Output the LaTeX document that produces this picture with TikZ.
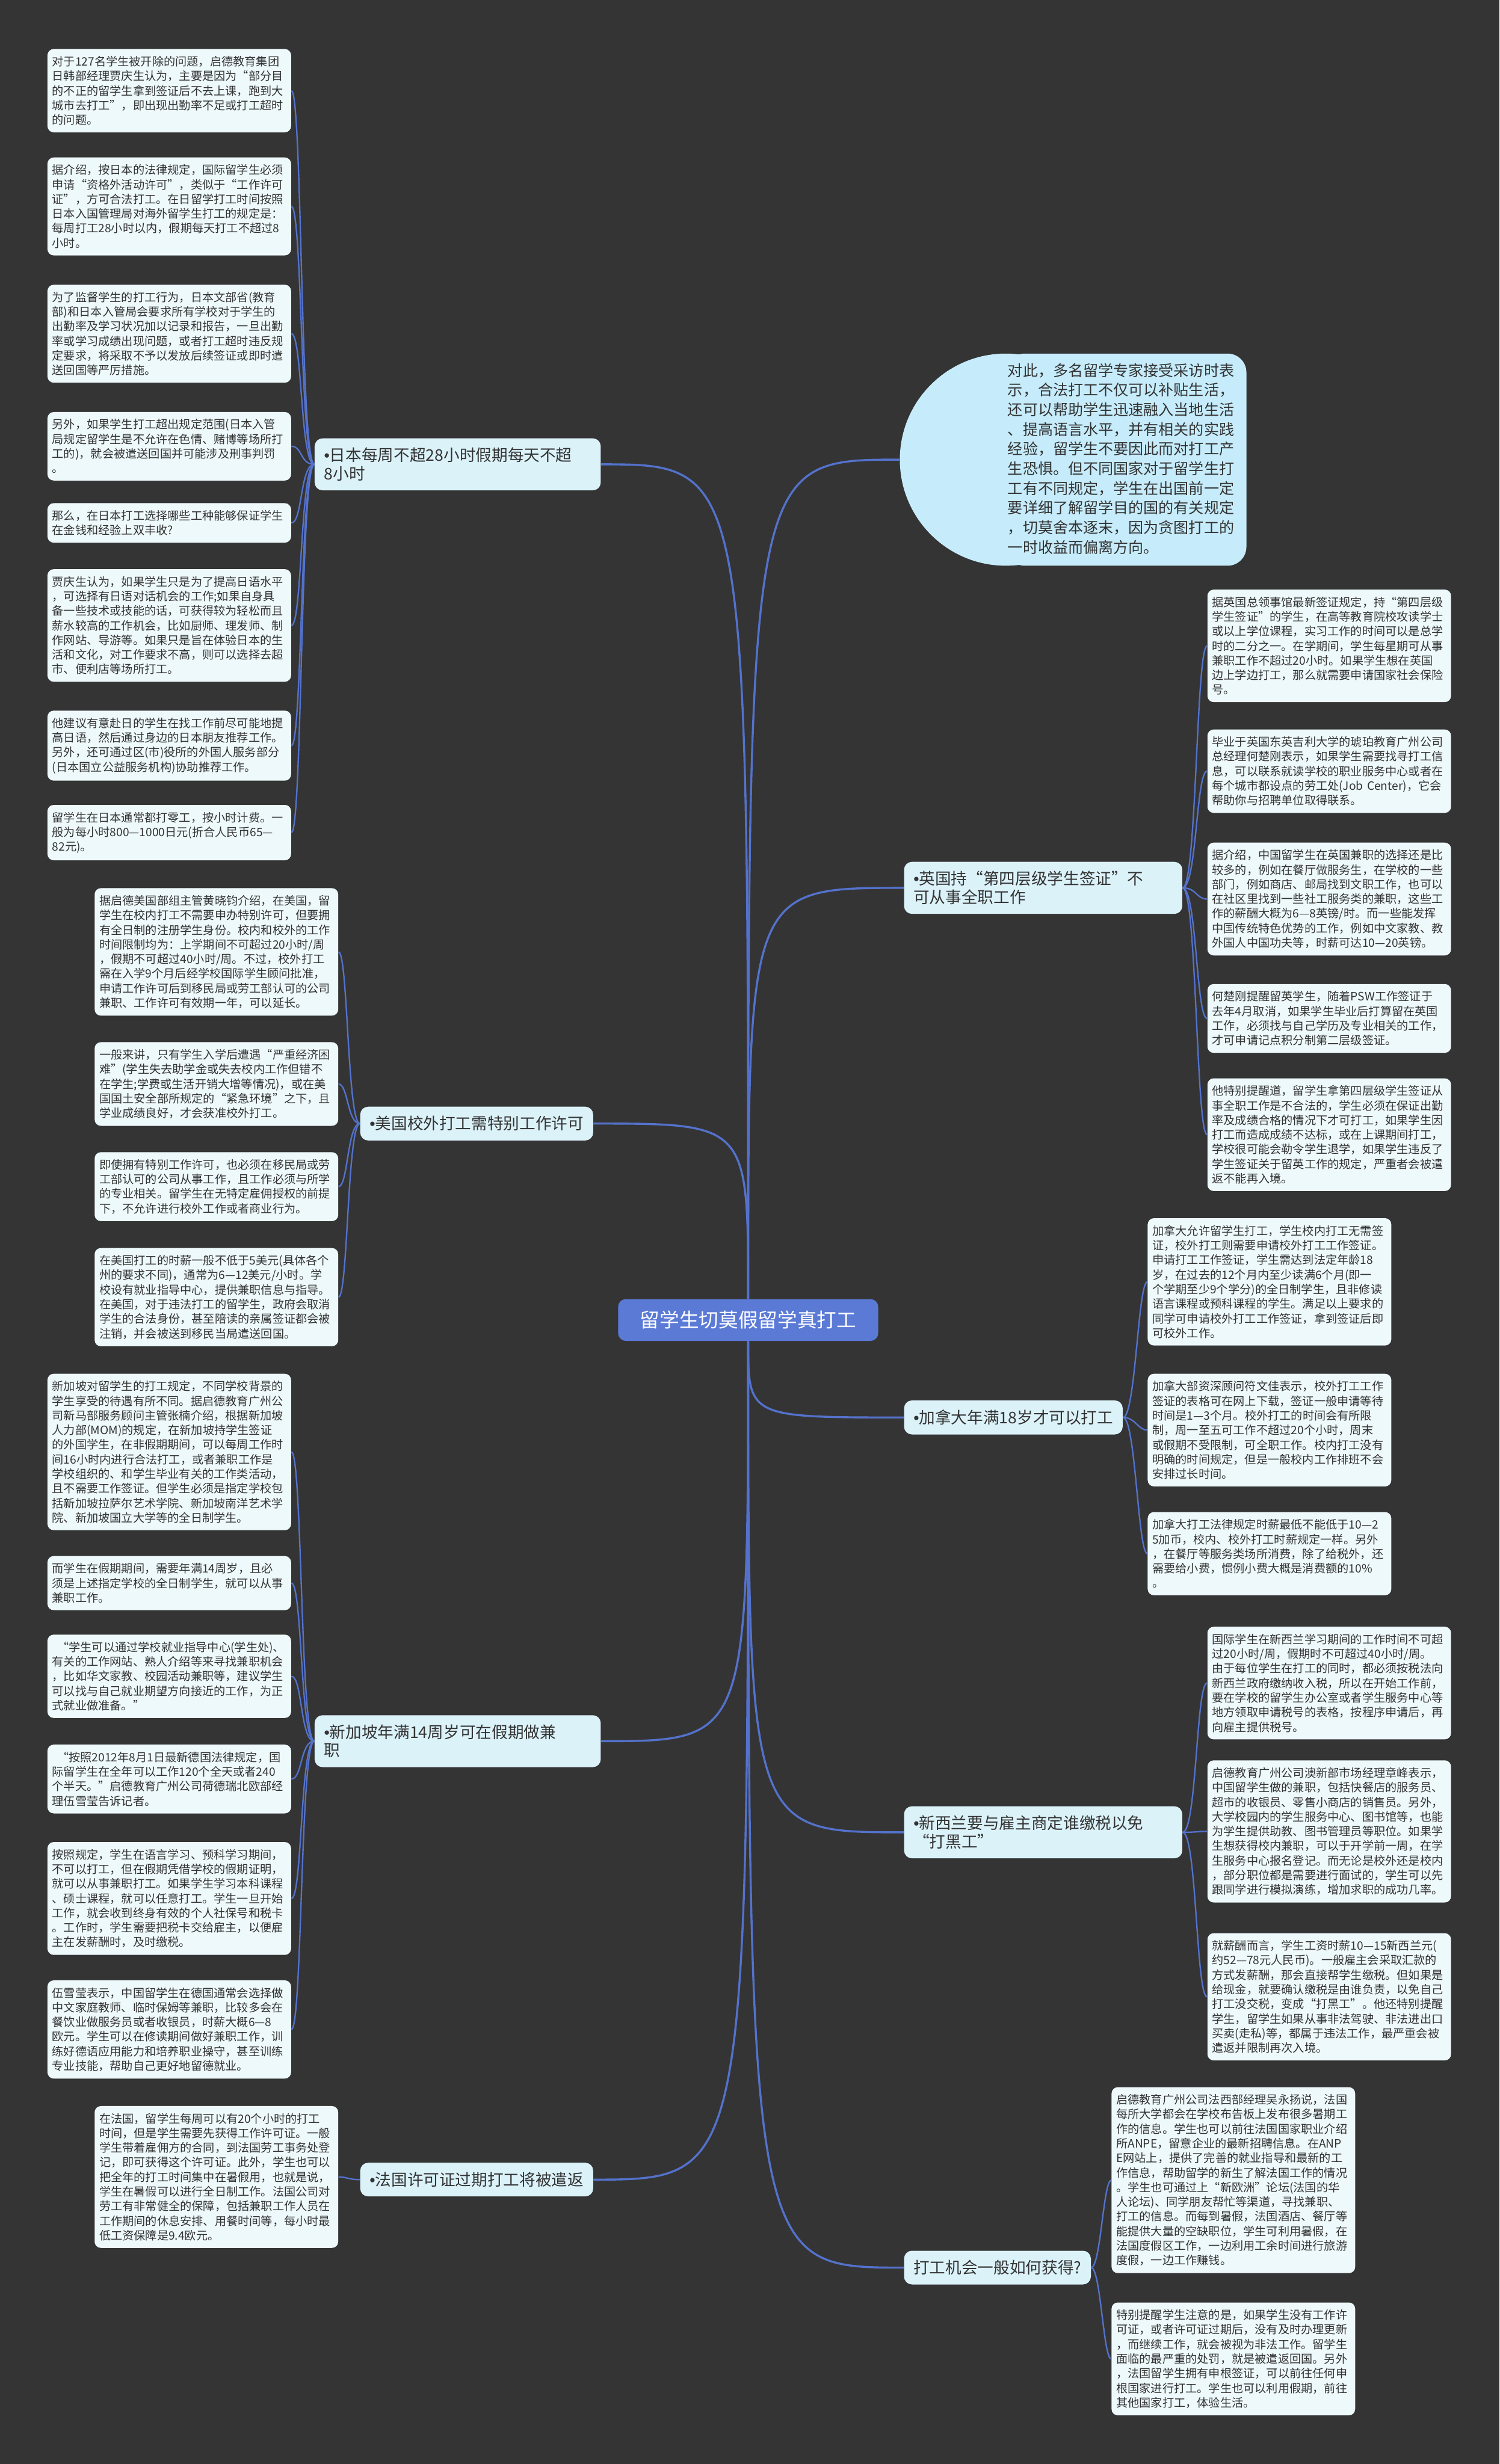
\documentclass[tikz,border=0pt]{standalone}
\usepackage{fontspec}
\setmainfont{Noto Sans CJK SC}
\newfontfamily\dotfont{Liberation Sans}
\newcommand{\dotmark}{{\dotfont •}}
\definecolor{slate}{HTML}{343434}
\definecolor{wire}{HTML}{5472CC}
\definecolor{hubblue}{HTML}{5A7AD6}
\definecolor{topicfill}{HTML}{DBF2F9}
\definecolor{leaffill}{HTML}{EEF9FC}
\definecolor{tipfill}{HTML}{C6ECFB}
\definecolor{ink}{HTML}{333333}
\tikzset{
  hub/.style={fill=hubblue, rounded corners=5pt, text=white, inner xsep=14pt, inner ysep=7.5pt, font=\fontsize{12.5}{15}\selectfont},
  topic/.style={fill=topicfill, rounded corners=5pt, text=ink, align=left, inner xsep=6pt, inner ysep=6pt, font=\fontsize{10.2}{11.6}\selectfont},
  leaf/.style={fill=leaffill, rounded corners=4pt, text=ink, align=left, text width=149pt, inner xsep=3pt, inner ysep=4.5pt, font=\fontsize{7.35}{9.3}\selectfont},
  tiptext/.style={text=ink, align=left, text width=150pt, inner sep=0pt, font=\fontsize{9.6}{12.5}\selectfont},
  link/.style={wire, line width=1.3pt},
  twig/.style={wire, line width=0.9pt}
}

\begin{document}
\begin{tikzpicture}[x=1pt, y=-1pt]
\fill[slate] (0,0) rectangle (954,1568);
\useasboundingbox (0,0) rectangle (954,1568);

\node[hub] (hub) at (476,840) {留学生切莫假留学真打工};

\fill[tipfill] (640,292.5) circle[radius=67.5pt];
\fill[tipfill, rounded corners=12pt] (640,225) rectangle (793,360);
\coordinate (tipw) at (572.5,292.5);
\node[tiptext, anchor=north west] (tip) at (641,231) {对此，多名留学专家接受采访时表\\示，合法打工不仅可以补贴生活，\\还可以帮助学生迅速融入当地生活\\、提高语言水平，并有相关的实践\\经验，留学生不要因此而对打工产\\生恐惧。但不同国家对于留学生打\\工有不同规定，学生在出国前一定\\要详细了解留学目的国的有关规定\\，切莫舍本逐末，因为贪图打工的\\一时收益而偏离方向。};

\node[topic, anchor=west, text width=170pt] (jp) at (200,295.5) {\dotmark 日本每周不超28小时假期每天不超\\8小时};
\node[topic, anchor=west] (us) at (229,715) {\dotmark 美国校外打工需特别工作许可};
\node[topic, anchor=west, text width=170pt] (sg) at (200,1108) {\dotmark 新加坡年满14周岁可在假期做兼\\职};
\node[topic, anchor=west] (fr) at (229,1387) {\dotmark 法国许可证过期打工将被遣返};
\node[topic, anchor=west, text width=165pt] (uk) at (575,565) {\dotmark 英国持“第四层级学生签证”不\\可从事全职工作};
\node[topic, anchor=west] (ca) at (575,902) {\dotmark 加拿大年满18岁才可以打工};
\node[topic, anchor=west, text width=165pt] (nz) at (575,1166) {\dotmark 新西兰要与雇主商定谁缴税以免\\“打黑工”};
\node[topic, anchor=west] (op) at (575,1443) {打工机会一般如何获得?};

\draw[link] (hub.north) .. controls (hub.north |- tipw) .. (tipw);
\draw[link] (hub.north) .. controls (hub.north |- jp.east) .. (jp.east);
\draw[link] (hub.north) .. controls (hub.north |- us.east) .. (us.east);
\draw[link] (hub.north) .. controls (hub.north |- uk.west) .. (uk.west);
\draw[link] (hub.south) .. controls (hub.south |- ca.west) .. (ca.west);
\draw[link] (hub.south) .. controls (hub.south |- sg.east) .. (sg.east);
\draw[link] (hub.south) .. controls (hub.south |- nz.west) .. (nz.west);
\draw[link] (hub.south) .. controls (hub.south |- fr.east) .. (fr.east);
\draw[link] (hub.south) .. controls (hub.south |- op.west) .. (op.west);

\node[leaf, anchor=north west] (j1) at (30,31) {对于127名学生被开除的问题，启德教育集团\\日韩部经理贾庆生认为，主要是因为“部分目\\的不正的留学生拿到签证后不去上课，跑到大\\城市去打工”，即出现出勤率不足或打工超时\\的问题。};
\node[leaf, anchor=north west] (j2) at (30,100) {据介绍，按日本的法律规定，国际留学生必须\\申请“资格外活动许可”，类似于“工作许可\\证”，方可合法打工。在日留学打工时间按照\\日本入国管理局对海外留学生打工的规定是：\\每周打工28小时以内，假期每天打工不超过8\\小时。};
\node[leaf, anchor=north west] (j3) at (30,181) {为了监督学生的打工行为，日本文部省(教育\\部)和日本入管局会要求所有学校对于学生的\\出勤率及学习状况加以记录和报告，一旦出勤\\率或学习成绩出现问题，或者打工超时违反规\\定要求，将采取不予以发放后续签证或即时遣\\送回国等严厉措施。};
\node[leaf, anchor=north west] (j4) at (30,262) {另外，如果学生打工超出规定范围(日本入管\\局规定留学生是不允许在色情、赌博等场所打\\工的)，就会被遣送回国并可能涉及刑事判罚\\。};
\node[leaf, anchor=north west] (j5) at (30,320) {那么，在日本打工选择哪些工种能够保证学生\\在金钱和经验上双丰收?};
\node[leaf, anchor=north west] (j6) at (30,362) {贾庆生认为，如果学生只是为了提高日语水平\\，可选择有日语对话机会的工作;如果自身具\\备一些技术或技能的话，可获得较为轻松而且\\薪水较高的工作机会，比如厨师、理发师、制\\作网站、导游等。如果只是旨在体验日本的生\\活和文化，对工作要求不高，则可以选择去超\\市、便利店等场所打工。};
\node[leaf, anchor=north west] (j7) at (30,452) {他建议有意赴日的学生在找工作前尽可能地提\\高日语，然后通过身边的日本朋友推荐工作。\\另外，还可通过区(市)役所的外国人服务部分\\(日本国立公益服务机构)协助推荐工作。};
\node[leaf, anchor=north west] (j8) at (30,512) {留学生在日本通常都打零工，按小时计费。一\\般为每小时800—1000日元(折合人民币65—\\82元)。};

\node[leaf, anchor=north west] (u1) at (60,565) {据启德美国部组主管黄晓钧介绍，在美国，留\\学生在校内打工不需要申办特别许可，但要拥\\有全日制的注册学生身份。校内和校外的工作\\时间限制均为：上学期间不可超过20小时/周\\，假期不可超过40小时/周。不过，校外打工\\需在入学9个月后经学校国际学生顾问批准，\\申请工作许可后到移民局或劳工部认可的公司\\兼职、工作许可有效期一年，可以延长。};
\node[leaf, anchor=north west] (u2) at (60,663) {一般来讲，只有学生入学后遭遇“严重经济困\\难”(学生失去助学金或失去校内工作但错不\\在学生;学费或生活开销大增等情况)，或在美\\国国土安全部所规定的“紧急环境”之下，且\\学业成绩良好，才会获准校外打工。};
\node[leaf, anchor=north west] (u3) at (60,733) {即使拥有特别工作许可，也必须在移民局或劳\\工部认可的公司从事工作，且工作必须与所学\\的专业相关。留学生在无特定雇佣授权的前提\\下，不允许进行校外工作或者商业行为。};
\node[leaf, anchor=north west] (u4) at (60,794) {在美国打工的时薪一般不低于5美元(具体各个\\州的要求不同)，通常为6—12美元/小时。学\\校设有就业指导中心，提供兼职信息与指导。\\在美国，对于违法打工的留学生，政府会取消\\学生的合法身份，甚至陪读的亲属签证都会被\\注销，并会被送到移民当局遣送回国。};

\node[leaf, anchor=north west] (s1) at (30,874) {新加坡对留学生的打工规定，不同学校背景的\\学生享受的待遇有所不同。据启德教育广州公\\司新马部服务顾问主管张楠介绍，根据新加坡\\人力部(MOM)的规定，在新加坡持学生签证\\的外国学生，在非假期期间，可以每周工作时\\间16小时内进行合法打工，或者兼职工作是\\学校组织的、和学生毕业有关的工作类活动，\\且不需要工作签证。但学生必须是指定学校包\\括新加坡拉萨尔艺术学院、新加坡南洋艺术学\\院、新加坡国立大学等的全日制学生。};
\node[leaf, anchor=north west] (s2) at (30,990) {而学生在假期期间，需要年满14周岁，且必\\须是上述指定学校的全日制学生，就可以从事\\兼职工作。};
\node[leaf, anchor=north west] (s3) at (30,1040) {\hspace*{0.45em}“学生可以通过学校就业指导中心(学生处)、\\有关的工作网站、熟人介绍等来寻找兼职机会\\，比如华文家教、校园活动兼职等，建议学生\\可以找与自己就业期望方向接近的工作，为正\\式就业做准备。”};
\node[leaf, anchor=north west] (s4) at (30,1110) {\hspace*{0.45em}“按照2012年8月1日最新德国法律规定，国\\际留学生在全年可以工作120个全天或者240\\个半天。”启德教育广州公司荷德瑞北欧部经\\理伍雪莹告诉记者。};
\node[leaf, anchor=north west] (s5) at (30,1172) {按照规定，学生在语言学习、预科学习期间，\\不可以打工，但在假期凭借学校的假期证明，\\就可以从事兼职打工。如果学生学习本科课程\\、硕士课程，就可以任意打工。学生一旦开始\\工作，就会收到终身有效的个人社保号和税卡\\。工作时，学生需要把税卡交给雇主，以便雇\\主在发薪酬时，及时缴税。};
\node[leaf, anchor=north west] (s6) at (30,1260) {伍雪莹表示，中国留学生在德国通常会选择做\\中文家庭教师、临时保姆等兼职，比较多会在\\餐饮业做服务员或者收银员，时薪大概6—8\\欧元。学生可以在修读期间做好兼职工作，训\\练好德语应用能力和培养职业操守，甚至训练\\专业技能，帮助自己更好地留德就业。};

\node[leaf, anchor=north west] (f1) at (60,1340) {在法国，留学生每周可以有20个小时的打工\\时间，但是学生需要先获得工作许可证。一般\\学生带着雇佣方的合同，到法国劳工事务处登\\记，即可获得这个许可证。此外，学生也可以\\把全年的打工时间集中在暑假用，也就是说，\\学生在暑假可以进行全日制工作。法国公司对\\劳工有非常健全的保障，包括兼职工作人员在\\工作期间的休息安排、用餐时间等，每小时最\\低工资保障是9.4欧元。};

\node[leaf, anchor=north west] (k1) at (768,375) {据英国总领事馆最新签证规定，持“第四层级\\学生签证”的学生，在高等教育院校攻读学士\\或以上学位课程，实习工作的时间可以是总学\\时的二分之一。在学期间，学生每星期可从事\\兼职工作不超过20小时。如果学生想在英国\\边上学边打工，那么就需要申请国家社会保险\\号。};
\node[leaf, anchor=north west] (k2) at (768,464) {毕业于英国东英吉利大学的琥珀教育广州公司\\总经理何楚刚表示，如果学生需要找寻打工信\\息，可以联系就读学校的职业服务中心或者在\\每个城市都设点的劳工处(Job Center)，它会\\帮助你与招聘单位取得联系。};
\node[leaf, anchor=north west] (k3) at (768,536) {据介绍，中国留学生在英国兼职的选择还是比\\较多的，例如在餐厅做服务生，在学校的一些\\部门，例如商店、邮局找到文职工作，也可以\\在社区里找到一些社工服务类的兼职，这些工\\作的薪酬大概为6—8英镑/时。而一些能发挥\\中国传统特色优势的工作，例如中文家教、教\\外国人中国功夫等，时薪可达10—20英镑。};
\node[leaf, anchor=north west] (k4) at (768,626) {何楚刚提醒留英学生，随着PSW工作签证于\\去年4月取消，如果学生毕业后打算留在英国\\工作，必须找与自己学历及专业相关的工作，\\才可申请记点积分制第二层级签证。};
\node[leaf, anchor=north west] (k5) at (768,686) {他特别提醒道，留学生拿第四层级学生签证从\\事全职工作是不合法的，学生必须在保证出勤\\率及成绩合格的情况下才可打工，如果学生因\\打工而造成成绩不达标，或在上课期间打工，\\学校很可能会勒令学生退学，如果学生违反了\\学生签证关于留英工作的规定，严重者会被遣\\返不能再入境。};

\node[leaf, anchor=north west] (c1) at (730,775) {加拿大允许留学生打工，学生校内打工无需签\\证，校外打工则需要申请校外打工工作签证。\\申请打工工作签证，学生需达到法定年龄18\\岁，在过去的12个月内至少读满6个月(即一\\个学期至少9个学分)的全日制学生，且非修读\\语言课程或预科课程的学生。满足以上要求的\\同学可申请校外打工工作签证，拿到签证后即\\可校外工作。};
\node[leaf, anchor=north west] (c2) at (730,874) {加拿大部资深顾问符文佳表示，校外打工工作\\签证的表格可在网上下载，签证一般申请等待\\时间是1—3个月。校外打工的时间会有所限\\制，周一至五可工作不超过20个小时，周末\\或假期不受限制，可全职工作。校内打工没有\\明确的时间规定，但是一般校内工作排班不会\\安排过长时间。};
\node[leaf, anchor=north west] (c3) at (730,962) {加拿大打工法律规定时薪最低不能低于10—2\\5加币，校内、校外打工时薪规定一样。另外\\，在餐厅等服务类场所消费，除了给税外，还\\需要给小费，惯例小费大概是消费额的10\%\\。};

\node[leaf, anchor=north west] (z1) at (768,1035) {国际学生在新西兰学习期间的工作时间不可超\\过20小时/周，假期时不可超过40小时/周。\\由于每位学生在打工的同时，都必须按税法向\\新西兰政府缴纳收入税，所以在开始工作前，\\要在学校的留学生办公室或者学生服务中心等\\地方领取申请税号的表格，按程序申请后，再\\向雇主提供税号。};
\node[leaf, anchor=north west] (z2) at (768,1120) {启德教育广州公司澳新部市场经理章峰表示，\\中国留学生做的兼职，包括快餐店的服务员、\\超市的收银员、零售小商店的销售员。另外，\\大学校园内的学生服务中心、图书馆等，也能\\为学生提供助教、图书管理员等职位。如果学\\生想获得校内兼职，可以于开学前一周，在学\\生服务中心报名登记。而无论是校外还是校内\\，部分职位都是需要进行面试的，学生可以先\\跟同学进行模拟演练，增加求职的成功几率。};
\node[leaf, anchor=north west] (z3) at (768,1230) {就薪酬而言，学生工资时薪10—15新西兰元(\\约52—78元人民币)。一般雇主会采取汇款的\\方式发薪酬，那会直接帮学生缴税。但如果是\\给现金，就要确认缴税是由谁负责，以免自己\\打工没交税，变成“打黑工”。他还特别提醒\\学生，留学生如果从事非法驾驶、非法进出口\\买卖(走私)等，都属于违法工作，最严重会被\\遣返并限制再次入境。};

\node[leaf, anchor=north west] (o1) at (707,1328) {启德教育广州公司法西部经理吴永扬说，法国\\每所大学都会在学校布告板上发布很多暑期工\\作的信息。学生也可以前往法国国家职业介绍\\所ANPE，留意企业的最新招聘信息。在ANP\\E网站上，提供了完善的就业指导和最新的工\\作信息，帮助留学的新生了解法国工作的情况\\。学生也可通过上“新欧洲”论坛(法国的华\\人论坛)、同学朋友帮忙等渠道，寻找兼职、\\打工的信息。而每到暑假，法国酒店、餐厅等\\能提供大量的空缺职位，学生可利用暑假，在\\法国度假区工作，一边利用工余时间进行旅游\\度假，一边工作赚钱。};
\node[leaf, anchor=north west] (o2) at (707,1465) {特别提醒学生注意的是，如果学生没有工作许\\可证，或者许可证过期后，没有及时办理更新\\，而继续工作，就会被视为非法工作。留学生\\面临的最严重的处罚，就是被遣返回国。另外\\，法国留学生拥有申根签证，可以前往任何申\\根国家进行打工。学生也可以利用假期，前往\\其他国家打工，体验生活。};

\foreach \leafname in {j1,j2,j3,j4,j5,j6,j7,j8}
  \draw[twig] (jp.west) .. controls +(-9,0) and +(7,0) .. (\leafname.east);
\foreach \leafname in {u1,u2,u3,u4}
  \draw[twig] (us.west) .. controls +(-8,0) and +(6,0) .. (\leafname.east);
\foreach \leafname in {s1,s2,s3,s4,s5,s6}
  \draw[twig] (sg.west) .. controls +(-9,0) and +(7,0) .. (\leafname.east);
\draw[twig] (fr.west) .. controls +(-8,0) and +(6,0) .. (f1.east);
\foreach \leafname in {k1,k2,k3,k4,k5}
  \draw[twig] (uk.east) .. controls +(9,0) and +(-7,0) .. (\leafname.west);
\foreach \leafname in {c1,c2,c3}
  \draw[twig] (ca.east) .. controls +(8,0) and +(-6,0) .. (\leafname.west);
\foreach \leafname in {z1,z2,z3}
  \draw[twig] (nz.east) .. controls +(9,0) and +(-7,0) .. (\leafname.west);
\foreach \leafname in {o1,o2}
  \draw[twig] (op.east) .. controls +(6,0) and +(-5,0) .. (\leafname.west);

\end{tikzpicture}
\end{document}
